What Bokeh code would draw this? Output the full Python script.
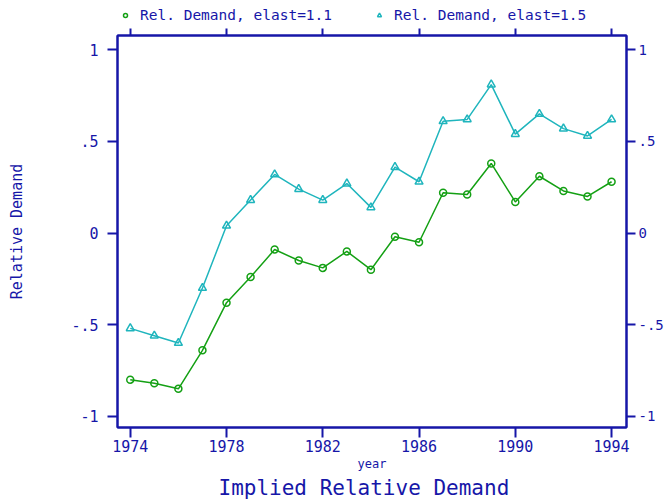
from bokeh.plotting import figure
from bokeh.layouts import column
from bokeh.models import LinearAxis, FixedTicker, Range1d, Legend, LegendItem
from bokeh.embed import file_html
from bokeh.resources import INLINE

# ---- data ----
years = list(range(1974, 1995))
rel_demand_11 = [-0.80, -0.82, -0.85, -0.64, -0.38, -0.24, -0.09, -0.15, -0.19, -0.10,
                 -0.20, -0.02, -0.05, 0.22, 0.21, 0.38, 0.17, 0.31, 0.23, 0.20, 0.28]
rel_demand_15 = [-0.52, -0.56, -0.60, -0.30, 0.04, 0.18, 0.32, 0.24, 0.18, 0.27,
                 0.14, 0.36, 0.28, 0.61, 0.62, 0.81, 0.54, 0.65, 0.57, 0.53, 0.62]
x_ticks = [1974, 1978, 1982, 1986, 1990, 1994]
y_ticks = [-1, -0.5, 0, 0.5, 1]
y_tick_labels = ["-1", "-.5", "0", ".5", "1"]
series_names = ["Rel. Demand, elast=1.1", "Rel. Demand, elast=1.5"]
chart_title = "Implied Relative Demand"

BLUE = "#1616a8"
GREEN = "#14a014"
CYAN = "#1fb5bd"
FONT = "DejaVu Sans Mono"

HEADER_H = 28

# ---- header strip holding the legend (its key renderers lie outside its view) ----
head = figure(width=666, height=HEADER_H, output_backend="svg", toolbar_location=None,
              x_axis_type=None, y_axis_type=None, x_range=Range1d(0, 1), y_range=Range1d(0, 1),
              min_border=0, min_border_left=0, min_border_right=0, min_border_top=0,
              min_border_bottom=0, background_fill_color="white", border_fill_color="white")
head.outline_line_color = None
head.xgrid.visible = False
head.ygrid.visible = False
k11 = head.scatter(years, rel_demand_11, marker="circle", size=7, line_color=GREEN,
                   line_width=1.5, fill_color=None)
k15 = head.scatter(years, rel_demand_15, marker="triangle", size=8, line_color=CYAN,
                   line_width=1.5, fill_color=None)
legend = Legend(items=[LegendItem(label=series_names[0], renderers=[k11]),
                       LegendItem(label=series_names[1], renderers=[k15])],
                orientation="horizontal", location=(3, 5),
                label_text_font=FONT, label_text_font_size="14.5px", label_text_color=BLUE,
                glyph_width=10, glyph_height=10, label_standoff=10, spacing=42,
                padding=2, margin=0, border_line_color=None, background_fill_alpha=0)
head.add_layout(legend, "center")

# ---- main chart ----
p = figure(width=666, height=499 - HEADER_H, output_backend="svg", toolbar_location=None,
           title=chart_title, title_location="below",
           x_range=Range1d(1973.47, 1994.62), y_range=Range1d(-1.061, 1.078),
           min_border_left=117, min_border_right=35, min_border_top=7, min_border_bottom=70,
           background_fill_color="white", border_fill_color="white")
p.outline_line_color = BLUE
p.outline_line_width = 2
p.xgrid.visible = False
p.ygrid.visible = False

p.title.align = "left"
p.title.text_font = FONT
p.title.text_font_size = "21px"
p.title.text_font_style = "normal"
p.title.text_color = BLUE
p.title.standoff = 0
p.title.offset = 101

overrides = {t: l for t, l in zip(y_ticks, y_tick_labels)}


def style_axis(ax, ticks, tick_out, label_size, standoff):
    ax.ticker = FixedTicker(ticks=ticks)
    ax.axis_line_color = BLUE
    ax.axis_line_width = 2
    ax.major_tick_line_color = BLUE
    ax.major_tick_line_width = 2
    ax.major_tick_out = tick_out
    ax.major_tick_in = 0
    ax.minor_tick_line_color = None
    ax.major_label_text_color = BLUE
    ax.major_label_text_font = FONT
    ax.major_label_text_font_size = label_size
    ax.major_label_standoff = standoff


# bottom x axis
xa = p.xaxis[0]
style_axis(xa, x_ticks, 10, "15px", 2)
xa.axis_label = "year"
xa.axis_label_text_font = FONT
xa.axis_label_text_font_size = "12px"
xa.axis_label_text_font_style = "normal"
xa.axis_label_text_color = BLUE
xa.axis_label_standoff = 2

# left y axis
ya = p.yaxis[0]
style_axis(ya, y_ticks, 10, "15px", 9)
ya.major_label_overrides = overrides
ya.axis_label = "Relative Demand"
ya.axis_label_text_font = FONT
ya.axis_label_text_font_size = "15px"
ya.axis_label_text_font_style = "normal"
ya.axis_label_text_color = BLUE
ya.axis_label_standoff = 42

# right y axis
ra = LinearAxis()
style_axis(ra, y_ticks, 9, "14px", 3)
ra.major_label_overrides = overrides
p.add_layout(ra, "right")

# top x axis (ticks only)
ta = LinearAxis()
style_axis(ta, x_ticks, 7, "1px", 0)
ta.major_label_text_alpha = 0
p.add_layout(ta, "above")

# series
p.line(years, rel_demand_11, line_color=GREEN, line_width=1.5)
p.scatter(years, rel_demand_11, marker="circle", size=7, line_color=GREEN,
          line_width=1.5, fill_color=None)
p.line(years, rel_demand_15, line_color=CYAN, line_width=1.5)
p.scatter(years, rel_demand_15, marker="triangle", size=8, line_color=CYAN,
          line_width=1.5, fill_color=None)

layout = column(head, p, spacing=0)
open("out.html", "w").write(file_html(layout, INLINE))
